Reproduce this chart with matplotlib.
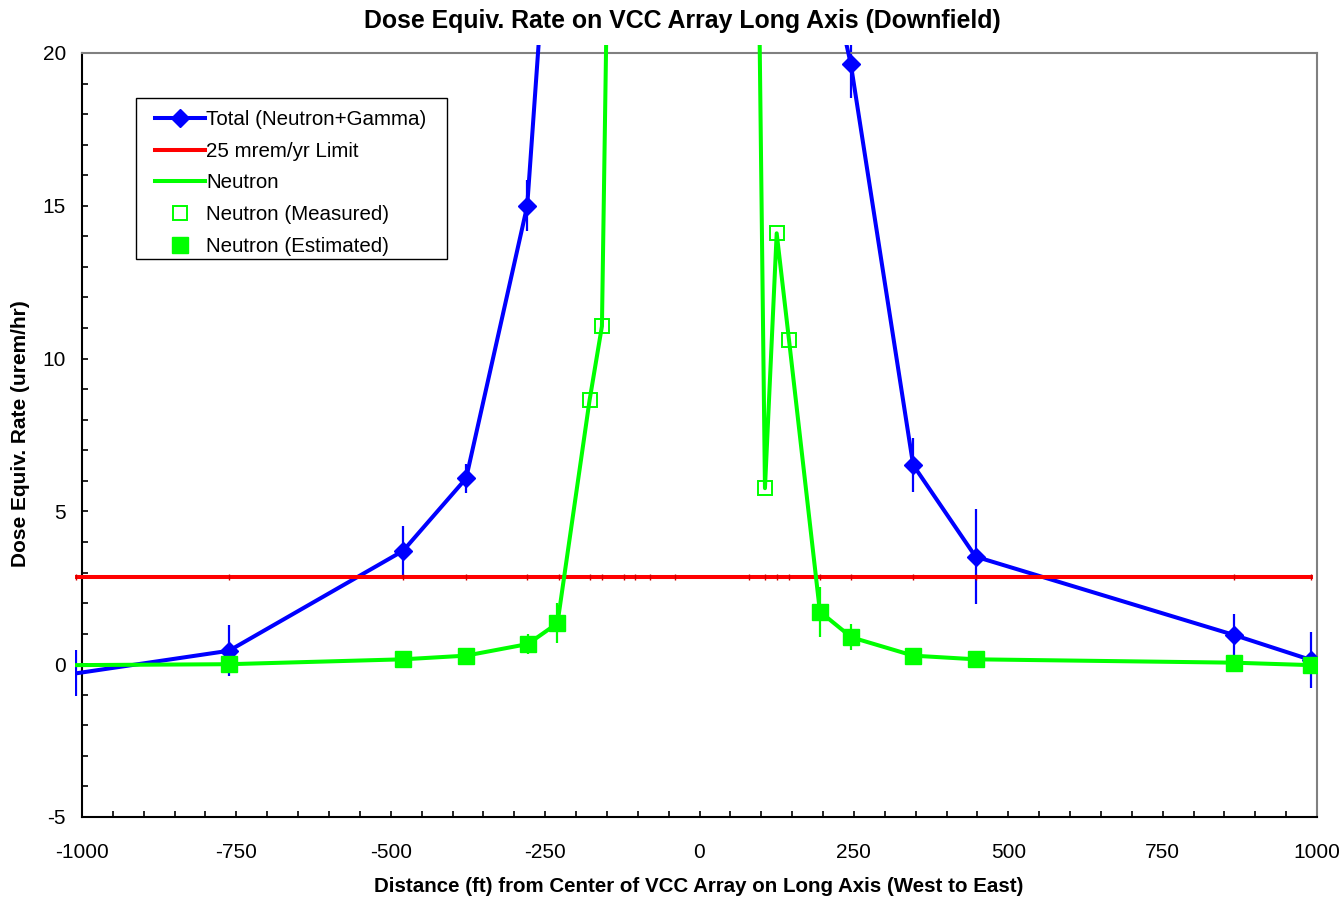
import matplotlib.pyplot as plt
import numpy as np
from matplotlib.patches import Rectangle
from matplotlib.lines import Line2D
from matplotlib.ticker import MultipleLocator

plt.rcParams['font.family'] = ['Liberation Sans', 'DejaVu Sans']
plt.rcParams['axes.unicode_minus'] = False

# distance (ft) and dose equiv. rate (urem/hr); centre points run far off the top
total_x = [-1010, -762, -480, -378, -279, -228, -178, -158, -122, -104, -80, -40,
           80, 106, 125, 145, 195, 245, 346, 447, 865, 990]
total_y = [-0.30, 0.44, 3.71, 6.08, 15.0, 29.6, 60, 75, 120, 150, 180, 200,
           120, 70, 75, 55, 24.2, 19.64, 6.52, 3.52, 0.96, 0.14]
total_err = [0.75, 0.84, 0.80, 0.47, 0.83, 0, 0, 0, 0, 0, 0, 0,
             0, 0, 0, 0, 0, 1.1, 0.87, 1.56, 0.67, 0.93]

neut_x = [-1010, -762, -480, -378, -278, -230, -178, -158, -122, -104, -80, -40,
          80, 106, 125, 145, 195, 246, 346, 447, 865, 990]
neut_y = [-0.03, 0.0, 0.16, 0.28, 0.66, 1.34, 8.64, 11.06, 60, 90, 110, 120,
          50, 5.76, 14.1, 10.6, 1.72, 0.88, 0.28, 0.16, 0.05, -0.03]
neut_err = [0, 0.1, 0.12, 0.15, 0.34, 0.65, 0, 0, 0, 0, 0, 0,
            0, 0, 0, 0, 0.82, 0.43, 0.15, 0.12, 0.1, 0.1]
neut_src = ['est', 'est', 'est', 'est', 'est', 'est', 'meas', 'meas', 'meas', 'meas', 'meas', 'meas',
            'meas', 'meas', 'meas', 'meas', 'est', 'est', 'est', 'est', 'est', 'est']

limit_value = 2.854  # 25 mrem/yr over 8760 hr

tx, ty, te = np.array(total_x), np.array(total_y), np.array(total_err)
nx, ny, ne = np.array(neut_x), np.array(neut_y), np.array(neut_err)
src = np.array(neut_src)

W, H = 1343, 900
fig = plt.figure(figsize=(W / 100, H / 100), dpi=100)
ax = fig.add_axes([82 / W, 1 - 817 / H, 1235 / W, 764 / H])
ax.set_xlim(-1000, 1000)
ax.set_ylim(-5, 20)

# Excel lets the series run a little past the plot frame
clip = Rectangle((-0.006, 0), 1.012, 1.011, transform=ax.transAxes)


def clipped(artists):
    for a in artists:
        a.set_clip_path(clip)


blue, red, green = '#0000ff', '#ff0000', '#00ff00'

eb = ax.errorbar(tx, ty, yerr=te, fmt='none', ecolor=blue, elinewidth=1.6, capsize=0, zorder=2)
clipped(eb.lines[2])
clipped(ax.plot(tx, ty, color=blue, lw=2.9, zorder=3))
clipped(ax.plot(tx, np.full(len(tx), limit_value), color=red, lw=2.9, marker='|',
                ms=4, mec='#d00000', mew=1, zorder=4))
eb = ax.errorbar(nx, ny, yerr=ne, fmt='none', ecolor=green, elinewidth=1.6, capsize=0, zorder=5)
clipped(eb.lines[2])
clipped(ax.plot(nx, ny, color=green, lw=2.9, zorder=6))

vis = tx >= -1000
ax.plot(tx[vis], ty[vis], ls='none', marker='D', ms=9, color=blue, zorder=7)
est = (src == 'est') & (nx >= -1000)
meas = src == 'meas'
ax.plot(nx[meas], ny[meas], ls='none', marker='s', ms=10.5, mfc='none', mec=green, mew=1.4, zorder=8)
ax.plot(nx[est], ny[est], ls='none', marker='s', ms=11.5, color=green, zorder=8)

ax.xaxis.set_major_locator(MultipleLocator(250))
ax.xaxis.set_minor_locator(MultipleLocator(50))
ax.yaxis.set_major_locator(MultipleLocator(5))
ax.yaxis.set_minor_locator(MultipleLocator(1))
ax.tick_params(which='both', direction='in', length=4.5, width=1.2, top=False, right=False)
ax.tick_params(axis='x', which='major', pad=18.5, labelsize=15)
ax.tick_params(axis='y', which='major', pad=11.5, labelsize=15)

for s in ['left', 'bottom']:
    ax.spines[s].set_color('black')
    ax.spines[s].set_linewidth(1.5)
for s in ['top', 'right']:
    ax.spines[s].set_color('#808080')
    ax.spines[s].set_linewidth(1.5)

fig.text(682 / W, 1 - 21 / H, 'Dose Equiv. Rate on VCC Array Long Axis (Downfield)',
         ha='center', va='center', fontsize=17.9, weight='bold')
fig.text(699 / W, 1 - 886 / H, 'Distance (ft) from Center of VCC Array on Long Axis (West to East)',
         ha='center', va='center', fontsize=14.8, weight='bold')
fig.text(21 / W, 1 - 434 / H, 'Dose Equiv. Rate (urem/hr)', rotation=90,
         ha='center', va='center', fontsize=15, weight='bold')

handles = [
    Line2D([], [], color=blue, lw=2.9, marker='D', ms=9),
    Line2D([], [], color=red, lw=2.9),
    Line2D([], [], color=green, lw=2.9),
    Line2D([], [], ls='none', marker='s', ms=10.5, mfc='none', mec=green, mew=1.4),
    Line2D([], [], ls='none', marker='s', ms=11.5, color=green),
]
labels = ['Total (Neutron+Gamma)', '25 mrem/yr Limit', 'Neutron',
          'Neutron (Measured)', 'Neutron (Estimated)']
fig.legend(handles, labels, loc='upper left', bbox_to_anchor=(155 / W, 1 - 110 / H),
           fontsize=14.8, frameon=False, handlelength=2.45, handletextpad=0.05,
           labelspacing=0.62, borderpad=0, borderaxespad=0, numpoints=1)
fig.patches.append(Rectangle((136 / W, 1 - 259 / H), 311 / W, 161 / H, transform=fig.transFigure,
                             fill=False, edgecolor='black', lw=1.0))

fig.savefig('out.png', dpi=100)
